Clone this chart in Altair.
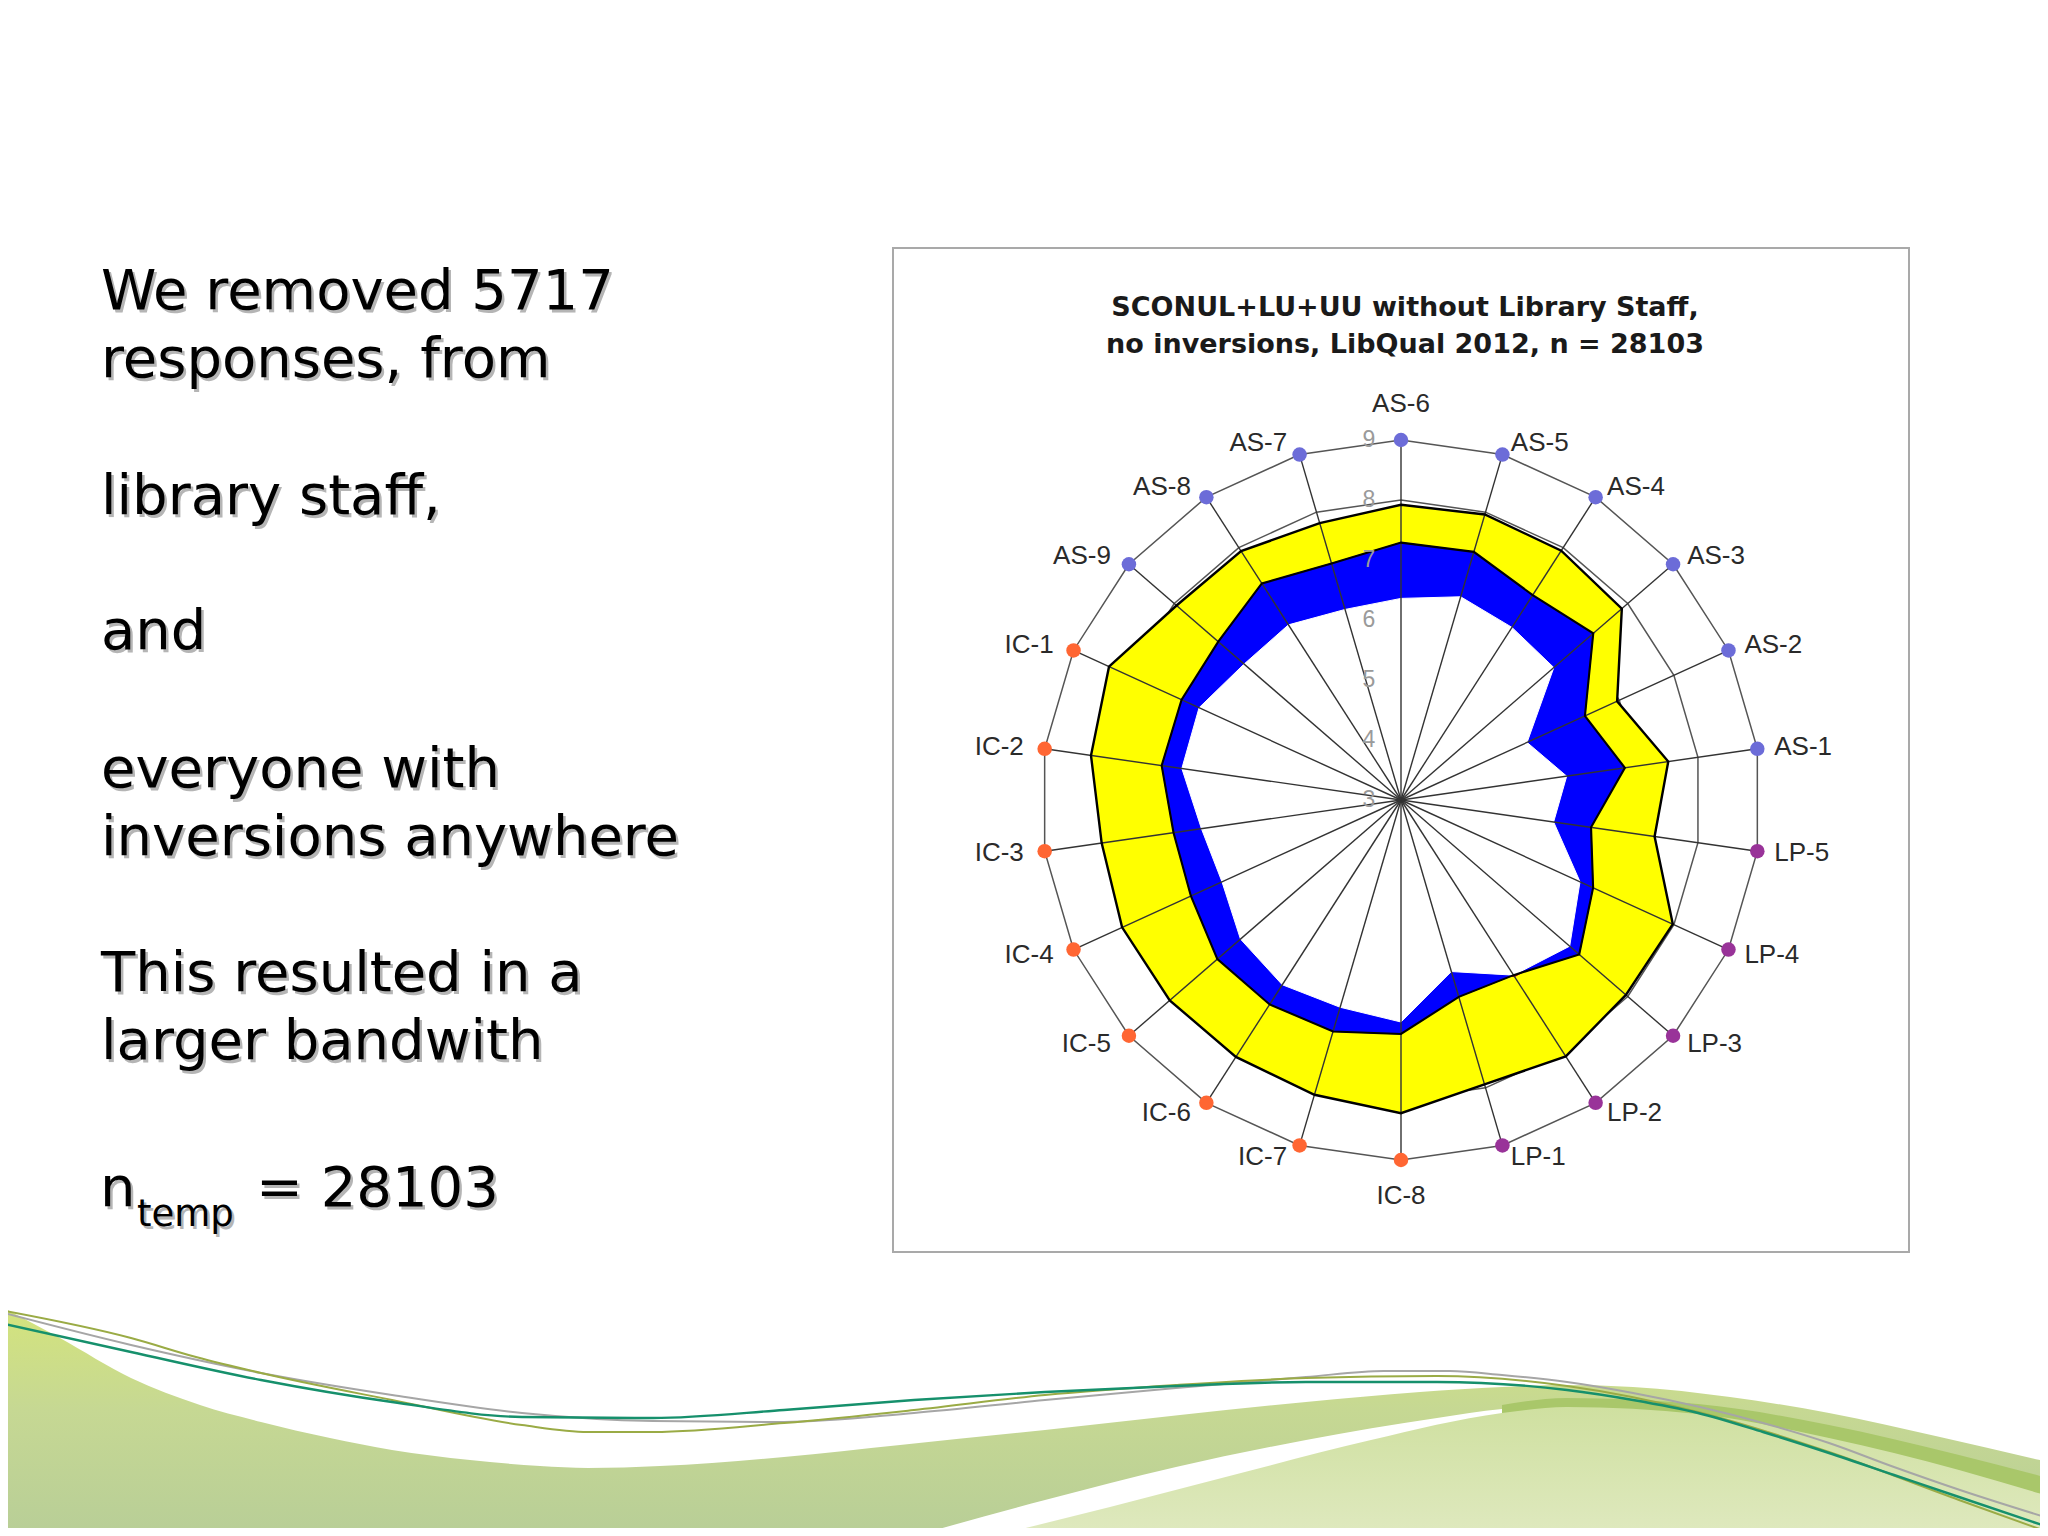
import altair as alt
import pandas as pd

# ---------------- data ----------------
items = ["AS-6", "AS-5", "AS-4", "AS-3", "AS-2", "AS-1", "LP-5", "LP-4", "LP-3", "LP-2", "LP-1",
         "IC-8", "IC-7", "IC-6", "IC-5", "IC-4", "IC-3", "IC-2", "IC-1", "AS-9", "AS-8", "AS-7"]
minimum = [6.36, 6.53, 6.42, 6.37, 5.31, 5.79, 5.57, 6.28, 6.72, 6.50, 5.98,
           6.70, 6.60, 6.66, 6.54, 6.28, 6.36, 6.69, 6.70, 6.46, 6.47, 6.31]
perceived = [7.29, 7.31, 7.06, 7.24, 6.37, 6.77, 6.20, 6.52, 6.93, 6.47, 6.42,
             6.90, 7.02, 7.05, 7.05, 6.85, 6.83, 7.03, 7.02, 7.03, 7.29, 7.11]
desired = [7.92, 7.96, 7.94, 7.87, 6.96, 7.50, 7.27, 7.98, 7.96, 8.08, 7.94,
           8.22, 8.12, 8.09, 8.10, 8.11, 8.04, 8.22, 8.35, 7.95, 7.93, 7.81]
ring_levels = [3, 4, 5, 6, 7, 8, 9]
dim_colors = {"AS": "#6c6cd8", "LP": "#993399", "IC": "#ff6633"}

title_lines = ["SCONUL+LU+UU without Library Staff,",
               "no inversions, LibQual 2012, n = 28103"]
left_lines = ["We removed 5717", "responses, from", "library staff,", "and",
              "everyone with", "inversions anywhere", "This resulted in a",
              "larger bandwith"]
left_baselines = [309, 377, 514, 649, 787, 855, 991, 1059]

# decorative slide background (page pixels)
deco_main_x = [0, 60, 131, 200, 261, 330, 392, 470, 540, 588, 660, 784, 900, 1045, 1180,
               1306, 1420, 1502, 1567, 1633, 1730, 1829, 1940, 2048]
deco_main_y = [1306, 1338, 1378, 1405, 1422, 1438, 1450, 1460, 1466, 1468, 1466, 1457, 1445,
               1430, 1415, 1402, 1392, 1387, 1385, 1387, 1397, 1413, 1437, 1462]
deco_white_x = [914, 1045, 1176, 1306, 1437, 1502, 1545]
deco_white_y = [1536, 1500, 1467, 1440, 1418, 1409, 1406]
deco_stripe_x = [1502, 1567, 1698, 1829, 1959, 2048]
deco_stripe_y = [1405, 1398, 1404, 1425, 1455, 1478]
deco_light_x = [993, 1110, 1241, 1371, 1502, 1567, 1698, 1829, 1959, 2048]
deco_light_y = [1536, 1507, 1473, 1440, 1413, 1407, 1414, 1438, 1470, 1496]
line_gray_x = [0, 131, 261, 392, 522, 653, 784, 914, 1045, 1176, 1306, 1384, 1450, 1502,
               1567, 1633, 1700, 1763, 1829, 1894, 1960, 2048]
line_gray_y = [1312, 1345, 1373, 1395, 1413, 1421, 1422, 1413, 1400, 1388, 1377, 1371, 1371,
               1375, 1382, 1393, 1407, 1423, 1443, 1467, 1490, 1518]
line_teal_x = [0, 131, 261, 392, 522, 653, 784, 914, 1045, 1176, 1306, 1437, 1567, 1633,
               1698, 1763, 1829, 1894, 1959, 2048]
line_teal_y = [1323, 1352, 1380, 1402, 1417, 1418, 1410, 1400, 1392, 1386, 1382, 1382, 1390,
               1400, 1413, 1432, 1453, 1475, 1497, 1527]
line_olive_x = [0, 131, 196, 261, 392, 522, 588, 653, 784, 914, 1045, 1176, 1306, 1437,
                1567, 1698, 1829, 1959, 2048]
line_olive_y = [1310, 1338, 1357, 1373, 1400, 1425, 1432, 1432, 1423, 1410, 1395, 1385,
                1378, 1376, 1386, 1412, 1452, 1500, 1532]

# ---------------- layout ----------------
N = len(items)
R0, R9 = 3, 9
UNIT = 60.0            # px per scale unit
CX, CY = 1401.0, 800.0 # page position of radar centre
W, H, MARGIN = 2032, 1520, 8
xs = alt.Scale(domain=[(MARGIN - CX) / UNIT, (MARGIN + W - CX) / UNIT], nice=False, zero=False)
ys = alt.Scale(domain=[(CY - MARGIN - H) / UNIT, (CY - MARGIN) / UNIT], nice=False, zero=False)


def X(f):
    return alt.X(f, type="quantitative", scale=xs, axis=None)


def Y(f):
    return alt.Y(f, type="quantitative", scale=ys, axis=None)


def page(chart, **extra):
    """convert page-pixel columns px/py into the chart units"""
    calc = dict(ux=f"(datum.px-{CX})/{UNIT}", uy=f"({CY}-datum.py)/{UNIT}")
    calc.update(extra)
    return chart.transform_calculate(**calc)


radar_df = pd.DataFrame({
    "idx": list(range(N)),
    "item": items,
    "dcol": [dim_colors[i[:2]] for i in items],
    "minimum": minimum,
    "perceived": perceived,
    "desired": desired,
    "lower": [min(a, b) for a, b in zip(minimum, perceived)],
})


def radar(v_expr, data=radar_df):
    return alt.Chart(data).transform_calculate(
        ang=f"datum.idx*2*PI/{N}",
        v=v_expr,
        rx=f"(datum.v-{R0})*sin(datum.ang)",
        ry=f"(datum.v-{R0})*cos(datum.ang)",
        zero="0",
    )


def polygon(v_expr, fill):
    return radar(v_expr).mark_line(
        interpolate="linear-closed", fill=fill, stroke=fill, strokeWidth=1
    ).encode(x=X("rx"), y=Y("ry"), order="idx:Q")


def outline(v_expr, width):
    return radar(v_expr).mark_line(
        interpolate="linear-closed", stroke="black", strokeWidth=width
    ).encode(x=X("rx"), y=Y("ry"), order="idx:Q")


# ---------------- background decoration ----------------
def area_df(xv, yv):
    return pd.DataFrame({"px": xv, "py": yv})


grad_main = alt.Gradient(gradient="linear",
                         stops=[alt.GradientStop(color="#d4e47c", offset=0),
                                alt.GradientStop(color="#c6d893", offset=0.45),
                                alt.GradientStop(color="#b8ce97", offset=1)],
                         x1=0, x2=0, y1=0, y2=1)
grad_light = alt.Gradient(gradient="linear",
                          stops=[alt.GradientStop(color="#cfe0a0", offset=0),
                                 alt.GradientStop(color="#dfe9bf", offset=1)],
                          x1=0, x2=0, y1=0, y2=1)

bottom = f"({CY}-1536)/{UNIT}"
deco_main = page(alt.Chart(area_df(deco_main_x, deco_main_y)), ub=bottom).mark_area(
    interpolate="monotone", color=grad_main).encode(x=X("ux"), y=Y("uy"), y2="ub:Q")
deco_white = page(alt.Chart(area_df(deco_white_x, deco_white_y)), ub=bottom).mark_area(
    interpolate="monotone", color="white").encode(x=X("ux"), y=Y("uy"), y2="ub:Q")
deco_stripe = page(alt.Chart(area_df(deco_stripe_x, deco_stripe_y)), ub=bottom).mark_area(
    interpolate="monotone", color="#a9c76a").encode(x=X("ux"), y=Y("uy"), y2="ub:Q")
deco_light = page(alt.Chart(area_df(deco_light_x, deco_light_y)), ub=bottom).mark_area(
    interpolate="monotone", color=grad_light).encode(x=X("ux"), y=Y("uy"), y2="ub:Q")

lines_df = pd.concat([
    pd.DataFrame({"px": line_gray_x, "py": line_gray_y, "lid": "gray", "col": "#a6a6a6", "sw": 2.0}),
    pd.DataFrame({"px": line_olive_x, "py": line_olive_y, "lid": "olive", "col": "#9aab45", "sw": 2.0}),
    pd.DataFrame({"px": line_teal_x, "py": line_teal_y, "lid": "teal", "col": "#16906c", "sw": 2.4}),
])
deco_lines = page(alt.Chart(lines_df)).mark_line(interpolate="monotone").encode(
    x=X("ux"), y=Y("uy"), detail="lid:N", order="px:Q",
    color=alt.Color("col:N", scale=None), size=alt.Size("sw:Q", scale=None))

# ---------------- left text ----------------
left_df = pd.DataFrame({"text": left_lines, "px": 101, "py": left_baselines})
n_df = pd.DataFrame({"text": ["n", "= 28103"], "px": [100, 256], "py": [1206, 1206]})
sub_df = pd.DataFrame({"text": ["temp"], "px": [137], "py": [1226]})

TXT = dict(font="DejaVu Sans", align="left", baseline="alphabetic")


def text_layers(df, size):
    shadow = page(alt.Chart(df)).mark_text(fontSize=size, color="#b5b5b5", dx=2.5, dy=2.5, **TXT).encode(
        x=X("ux"), y=Y("uy"), text="text:N")
    front = page(alt.Chart(df)).mark_text(fontSize=size, color="#000000", **TXT).encode(
        x=X("ux"), y=Y("uy"), text="text:N")
    return [shadow, front]


# ---------------- chart box + title ----------------
box_df = pd.DataFrame({"px": [893], "px2": [1909], "py": [248], "py2": [1252]})
box = page(alt.Chart(box_df), ux2=f"(datum.px2-{CX})/{UNIT}", uy2=f"({CY}-datum.py2)/{UNIT}").mark_rect(
    fill="white", stroke="#a9a9a9", strokeWidth=2).encode(x=X("ux"), x2="ux2:Q", y=Y("uy"), y2="uy2:Q")

title_df = pd.DataFrame({"text": title_lines, "px": [1405, 1405], "py": [316, 353]})
title = page(alt.Chart(title_df)).mark_text(
    font="DejaVu Sans", fontWeight="bold", fontSize=27, color="#1a1a1a",
    align="center", baseline="alphabetic").encode(x=X("ux"), y=Y("uy"), text="text:N")

# ---------------- radar ----------------
ring_df = pd.DataFrame([{"idx": i, "level": lv} for lv in ring_levels[1:] for i in range(N)])
rings = radar("datum.level", ring_df).mark_line(
    interpolate="linear-closed", stroke="#555555", strokeWidth=1.5).encode(
    x=X("rx"), y=Y("ry"), detail="level:N", order="idx:Q")

fill_des = polygon("datum.desired", "#ffff00")
fill_min = polygon("datum.minimum", "#b30000")
fill_per = polygon("datum.perceived", "#0000ff")
fill_low = polygon("datum.lower", "#ffffff")

spokes = radar(str(R9)).mark_rule(stroke="#333333", strokeWidth=1.4).encode(
    x=X("zero"), y=Y("zero"), x2="rx:Q", y2="ry:Q")

line_des = outline("datum.desired", 2.4)
line_per = outline("datum.perceived", 2.1)

lvl_df = pd.DataFrame({"level": ring_levels})
ring_labels = alt.Chart(lvl_df).transform_calculate(
    rx="0", ry=f"datum.level-{R0}").mark_text(
    font="Liberation Sans", fontSize=23, color="#9a9a9a", dx=-32,
    align="center", baseline="middle").encode(x=X("rx"), y=Y("ry"), text="level:Q")

dots = radar(str(R9)).mark_circle(size=210, opacity=1).encode(
    x=X("rx"), y=Y("ry"), color=alt.Color("dcol:N", scale=None))

LBL = dict(font="Liberation Sans", fontSize=26, color="#2a2a2a", baseline="middle")
lab_right = radar("9.2").transform_filter("datum.idx>0 && datum.idx<11").mark_text(
    align="left", dx=5, **LBL).encode(x=X("rx"), y=Y("ry"), text="item:N")
lab_left = radar("9.2").transform_filter("datum.idx>11").mark_text(
    align="right", dx=-9, **LBL).encode(x=X("rx"), y=Y("ry"), text="item:N")
lab_tb = radar("9.6").transform_filter("datum.idx==0 || datum.idx==11").mark_text(
    align="center", **LBL).encode(x=X("rx"), y=Y("ry"), text="item:N")

layers = [deco_main, deco_white, deco_stripe, deco_light, deco_lines]
layers += text_layers(left_df, 56) + text_layers(n_df, 56) + text_layers(sub_df, 37)
layers += [box, title, rings, fill_des, fill_min, fill_per, fill_low, spokes,
           line_des, line_per, ring_labels, dots, lab_right, lab_left, lab_tb]

chart = alt.layer(*layers).properties(
    width=W, height=H, autosize=alt.AutoSizeParams(type="none"), padding=0,
    background="white",
).configure_view(strokeWidth=0)

chart.save("out.html", embed_options={"renderer": "svg", "actions": False})
